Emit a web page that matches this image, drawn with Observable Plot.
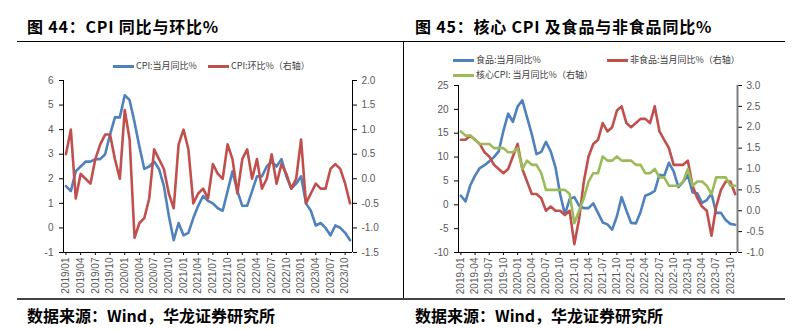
<!DOCTYPE html>
<html><head><meta charset="utf-8">
<script src="https://cdn.jsdelivr.net/npm/d3@7"></script>
<script src="https://cdn.jsdelivr.net/npm/@observablehq/plot@0.6"></script>
<style>
html,body{margin:0;padding:0;background:#fff;}
#page{position:relative;width:810px;height:330px;overflow:hidden;background:#fff;}
.t{position:absolute;font-family:"Noto Sans CJK SC",sans-serif;font-weight:700;font-size:16px;color:#000;white-space:nowrap;line-height:16px;}
.tt{letter-spacing:0.8px;}
.hr{position:absolute;background:#000;z-index:5;}
.lg{position:absolute;font-family:"Noto Sans CJK SC",sans-serif;font-size:9px;color:#404040;white-space:nowrap;line-height:10px;display:flex;align-items:center;transform:translateY(-50%);}
.lg i{display:inline-block;width:21px;height:3px;margin-right:2px;}
.chart{position:absolute;}
</style></head>
<body><div id="page"></div>
<script>
// ---------- data ----------
const months = d3.utcMonth.range(new Date(Date.UTC(2019,0,1)), new Date(Date.UTC(2023,11,1)));
const monthSlash = months.map(d3.utcFormat("%Y/%m"));
const monthDash = months.map(d3.utcFormat("%Y-%m"));

// Chart 44
const cpiYoY = [1.7,1.5,2.3,2.5,2.7,2.7,2.8,2.8,3.0,3.8,4.5,4.5,
  5.4,5.2,4.3,3.3,2.4,2.5,2.7,2.4,1.7,0.5,-0.5,0.2,
  -0.3,-0.2,0.4,0.9,1.3,1.1,1.0,0.8,0.7,1.5,2.3,1.5,
  0.9,0.9,1.5,2.1,2.1,2.5,2.7,2.5,2.8,2.1,1.6,1.8,
  2.1,1.0,0.7,0.1,0.2,0.0,-0.3,0.1,0.0,-0.2,-0.5];
const cpiMoM = [0.5,1.0,-0.4,0.1,0.0,-0.1,0.4,0.7,0.9,0.9,0.4,0.0,
  1.4,0.8,-1.2,-0.9,-0.8,-0.4,0.6,0.4,0.2,-0.3,-0.6,0.7,
  1.0,0.6,-0.5,-0.3,-0.2,-0.4,0.3,0.1,0.0,0.7,0.4,-0.3,
  0.4,0.6,0.0,0.4,-0.2,0.0,0.5,-0.1,0.3,0.1,-0.2,0.0,
  0.8,-0.5,-0.3,-0.1,-0.2,-0.2,0.2,0.3,0.2,-0.1,-0.5];
const leftTicks44 = [-1,0,1,2,3,4,5,6];
const rightTicks44 = [-1.5,-1.0,-0.5,0.0,0.5,1.0,1.5,2.0];

// Chart 45
const foodYoY = [1.9,0.7,4.1,6.1,7.7,8.3,9.1,10.0,11.2,15.5,19.1,17.4,
  20.6,21.9,18.3,14.8,10.6,11.1,13.2,11.2,7.9,2.2,-2.0,1.2,
  1.6,-0.2,-0.7,-0.7,0.3,-1.7,-3.7,-4.1,-5.2,-2.4,1.6,-1.2,
  -3.8,-3.9,-1.5,1.9,2.3,2.9,6.3,6.1,8.8,7.0,3.7,4.8,
  6.2,2.6,2.4,0.4,1.0,2.3,-1.7,-1.7,-3.2,-4.0,-4.2];
const nonFoodYoY = [1.7,1.7,1.8,1.7,1.6,1.4,1.3,1.1,1.0,0.9,1.0,1.3,
  1.6,1.0,0.7,0.4,0.4,0.3,0.0,0.1,0.0,0.0,-0.1,0.0,
  -0.8,-0.2,0.7,1.3,1.6,1.7,2.1,1.9,2.0,2.4,2.5,2.1,
  2.0,2.1,2.2,2.2,2.1,2.5,1.9,1.7,1.5,1.1,1.1,1.1,
  1.2,0.6,0.3,0.1,0.0,-0.6,0.1,0.5,0.7,0.7,0.4];
const coreYoY = [1.9,1.8,1.8,1.7,1.6,1.6,1.6,1.5,1.5,1.5,1.4,1.4,
  1.5,1.0,1.2,1.1,1.1,0.9,0.5,0.5,0.5,0.5,0.5,0.4,
  -0.3,0.0,0.3,0.7,0.9,0.9,1.3,1.2,1.2,1.3,1.2,1.2,
  1.2,1.1,1.1,0.9,0.9,1.0,0.8,0.8,0.6,0.6,0.6,0.7,
  1.0,0.6,0.7,0.7,0.6,0.4,0.8,0.8,0.8,0.6,0.6];
const leftTicks45 = [-10,-5,0,5,10,15,20,25];
const rightTicks45 = [-1.0,-0.5,0.0,0.5,1.0,1.5,2.0,2.5,3.0];

const BLUE = "#4F81BD", RED = "#C0504D", GREEN = "#9BBB59";
const TICK_TXT = "#595959";
const xTicks = d3.range(0, months.length, 3);
const N = months.length;

const page = document.getElementById("page");
function add(html){ page.insertAdjacentHTML("beforeend", html); }

// titles & sources
add(`<div class="t tt" style="left:27px;top:18px">图 44：CPI 同比与环比%</div>`);
add(`<div class="t tt" style="left:415px;top:18px">图 45：核心 CPI 及食品与非食品同比%</div>`);
add(`<div class="t" style="left:27px;top:307px">数据来源：Wind，华龙证券研究所</div>`);
add(`<div class="t" style="left:415px;top:307px">数据来源：Wind，华龙证券研究所</div>`);

function fmtR(v){ const r = Math.round(v*10)/10; return (r===0?0:r).toFixed(1); }

// ---------- chart 44 ----------
const to44 = r => 2*r + 2;
const inv44 = v => (v - 2)/2;
const c44 = Plot.plot({
  width: 400, height: 255,
  marginLeft: 63, marginRight: 48, marginTop: 35, marginBottom: 48,
  style: {background: "transparent", fontFamily: "'Liberation Sans', Arial, sans-serif", fontSize: "10px"},
  x: {domain: [-0.5, N - 0.5]},
  y: {domain: [-1, 6]},
  marks: [
    Plot.axisY({ticks: leftTicks44, tickSize: 4, tickPadding: 6, fontSize: 10, fill: TICK_TXT, stroke: "#000", tickFormat: d => String(d), label: null}),
    Plot.axisY({anchor: "right", ticks: rightTicks44.map(to44), tickSize: 4, tickPadding: 5, fontSize: 10, fill: TICK_TXT, stroke: "#000", tickFormat: v => fmtR(inv44(v)), label: null}),
    Plot.axisX({ticks: xTicks, tickSize: 3, tickPadding: 2, tickRotate: -90, fontSize: 10, fill: TICK_TXT, stroke: "#000", tickFormat: i => monthSlash[i], label: null}),
    Plot.ruleX([-0.5], {stroke: "#000", strokeWidth: 1}),
    Plot.ruleX([N - 0.5], {stroke: "#000", strokeWidth: 1}),
    Plot.ruleY([-1], {stroke: "#000", strokeWidth: 1}),
    Plot.line(cpiYoY, {x: (d, i) => i, y: d => d, stroke: BLUE, strokeWidth: 2.6}),
    Plot.line(cpiMoM, {x: (d, i) => i, y: d => to44(d), stroke: RED, strokeWidth: 2.6})
  ]
});
const w44 = document.createElement("div");
w44.className = "chart"; w44.style.left = "0px"; w44.style.top = "45px";
w44.appendChild(c44); page.appendChild(w44);

// ---------- chart 45 ----------
const to45 = r => -10 + 8.75*(r + 1);
const inv45 = v => (v + 10)/8.75 - 1;
const c45 = Plot.plot({
  width: 380, height: 255,
  marginLeft: 53, marginRight: 48, marginTop: 40, marginBottom: 48,
  style: {background: "transparent", fontFamily: "'Liberation Sans', Arial, sans-serif", fontSize: "10px"},
  x: {domain: [-0.5, N - 0.5]},
  y: {domain: [-10, 25]},
  marks: [
    Plot.axisY({ticks: leftTicks45, tickSize: 4, tickPadding: 6, fontSize: 10, fill: TICK_TXT, stroke: "#000", tickFormat: d => String(d), label: null}),
    Plot.axisY({anchor: "right", ticks: rightTicks45.map(to45), tickSize: 4, tickPadding: 5, fontSize: 10, fill: TICK_TXT, stroke: "#000", tickFormat: v => fmtR(inv45(v)), label: null}),
    Plot.axisX({ticks: xTicks, tickSize: 3, tickPadding: 2, tickRotate: -90, fontSize: 10, fill: TICK_TXT, stroke: "#000", tickFormat: i => monthDash[i], label: null}),
    Plot.ruleX([-0.5], {stroke: "#000", strokeWidth: 1}),
    Plot.ruleX([N - 0.5], {stroke: "#7f7f7f", strokeWidth: 2}),
    Plot.ruleY([-10], {stroke: "#000", strokeWidth: 1}),
    Plot.line(foodYoY, {x: (d, i) => i, y: d => d, stroke: BLUE, strokeWidth: 2.6}),
    Plot.line(nonFoodYoY, {x: (d, i) => i, y: d => to45(d), stroke: RED, strokeWidth: 2.6}),
    Plot.line(coreYoY, {x: (d, i) => i, y: d => to45(d), stroke: GREEN, strokeWidth: 2.6})
  ]
});
const w45 = document.createElement("div");
w45.className = "chart"; w45.style.left = "405px"; w45.style.top = "45px";
w45.appendChild(c45); page.appendChild(w45);

// ---------- legends ----------
add(`<div class="lg" style="left:113px;top:66px"><i style="background:${BLUE}"></i>CPI:当月同比%</div>`);
add(`<div class="lg" style="left:208px;top:66px"><i style="background:${RED}"></i>CPI:环比%（右轴）</div>`);
add(`<div class="lg" style="left:453px;top:60px"><i style="background:${BLUE}"></i>食品:当月同比%</div>`);
add(`<div class="lg" style="left:607px;top:60px"><i style="background:${RED}"></i>非食品:当月同比%（右轴）</div>`);
add(`<div class="lg" style="left:453px;top:75px"><i style="background:${GREEN}"></i>核心CPI: 当月同比%（右轴）</div>`);

// ---------- frame rules ----------
add(`<div class="hr" style="left:17px;top:41px;width:387px;height:1px"></div>`);
add(`<div class="hr" style="left:404px;top:41px;width:381px;height:1px"></div>`);
add(`<div class="hr" style="left:403px;top:41px;width:1px;height:258px"></div>`);
add(`<div class="hr" style="left:17px;top:298px;width:768px;height:2px;background:#444"></div>`);
</script></body></html>
